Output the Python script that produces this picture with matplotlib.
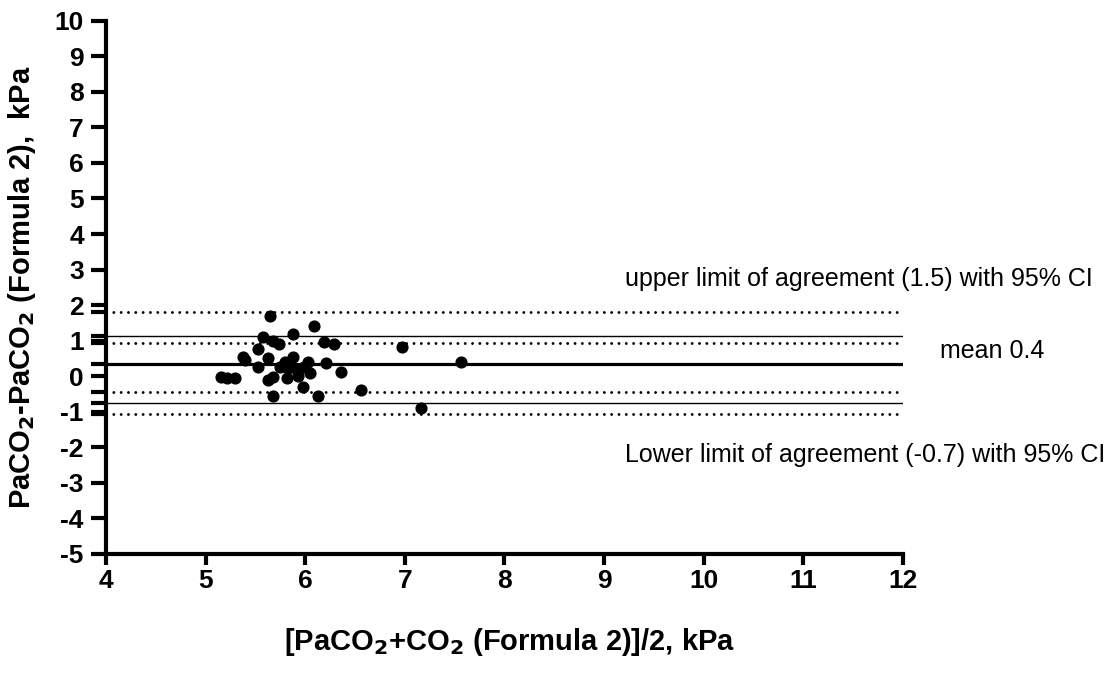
import matplotlib
matplotlib.use("Agg")
import matplotlib.pyplot as plt

# Data
mean_x = [5.65, 6.09, 5.88, 5.58, 5.68, 5.74, 6.19, 6.29, 6.97, 5.53,
          5.38, 5.40, 5.63, 5.53, 5.88, 5.80, 6.03, 6.21, 7.56, 5.75,
          5.83, 5.92, 5.99, 6.05, 6.36, 5.15, 5.21, 5.29, 5.63, 5.68,
          5.82, 5.93, 5.98, 6.56, 5.68, 6.13, 7.16, 5.78]
diff_y = [1.70, 1.41, 1.18, 1.09, 1.00, 0.90, 0.95, 0.90, 0.83, 0.76,
          0.55, 0.46, 0.51, 0.27, 0.53, 0.41, 0.41, 0.38, 0.41, 0.25,
          0.22, 0.18, 0.27, 0.08, 0.13, -0.03, -0.06, -0.06, -0.10, -0.01,
          -0.06, 0.01, -0.29, -0.39, -0.57, -0.57, -0.90, 0.30]

bias = 0.34
upper_loa = 1.14
upper_ci = [0.945, 1.82]
lower_loa = -0.74
lower_ci = [-1.06, -0.43]

x_ticks = [4, 5, 6, 7, 8, 9, 10, 11, 12]
y_ticks = list(range(-5, 11))

upper_text = "upper limit of agreement (1.5) with 95% CI"
mean_text = "mean 0.4"
lower_text = "Lower limit of agreement (-0.7) with 95% CI"

plt.rcParams['font.family'] = ['Liberation Sans', 'DejaVu Sans']
plt.rcParams['axes.unicode_minus'] = False
plt.rcParams['mathtext.default'] = 'bf'

fig = plt.figure(figsize=(11.18, 6.78), dpi=100)
ax = fig.add_axes([0.0948, 0.1829, 0.8077 - 0.0948, 0.9695 - 0.1829])

ax.set_xlim(4, 12)
ax.set_ylim(-5, 10)

# reference lines
ax.axhline(bias, color='black', lw=2.3, zorder=2)
ax.axhline(upper_loa, color='black', lw=1.0, zorder=2)
ax.axhline(lower_loa, color='black', lw=1.0, zorder=2)
for v in upper_ci + lower_ci:
    ax.axhline(v, color='black', lw=2.1, linestyle=(0, (0.01, 2.5)),
               dash_capstyle='round', zorder=2)

ax.scatter(mean_x, diff_y, s=60, color='black', zorder=3, clip_on=False)

for s in ['top', 'right']:
    ax.spines[s].set_visible(False)
for s in ['left', 'bottom']:
    ax.spines[s].set_linewidth(3.0)

ax.set_xticks(x_ticks)
ax.set_yticks(y_ticks)
ax.set_yticks(upper_ci + lower_ci + [bias, upper_loa, lower_loa], minor=True)
ax.tick_params(axis='y', which='major', length=11, width=3.0,
               labelsize=19, pad=5)
ax.tick_params(axis='x', which='major', length=8, width=3.0,
               labelsize=19, pad=2.5)
ax.tick_params(axis='y', which='minor', length=11, width=3.0)
for lab in ax.get_xticklabels() + ax.get_yticklabels():
    lab.set_fontweight('bold')

ax.set_ylabel("PaCO$_2$-PaCO$_2$ (Formula 2),  kPa",
              fontsize=21, fontweight='bold', labelpad=12)
fig.text(0.456, 0.03, "[PaCO$_2$+CO$_2$ (Formula 2)]/2, kPa",
         fontsize=21, fontweight='bold', ha='center', va='bottom')

ytr = ax.get_yaxis_transform()
ax.text(0.651, 2.74, upper_text, fontsize=18, ha='left', va='center',
        transform=ytr, clip_on=False)
ax.text(1.112, 0.71, mean_text, fontsize=18, ha='center', va='center',
        transform=ytr, clip_on=False)
ax.text(0.651, -2.21, lower_text, fontsize=18, ha='left', va='center',
        transform=ytr, clip_on=False)

fig.savefig("out.png", dpi=100)
